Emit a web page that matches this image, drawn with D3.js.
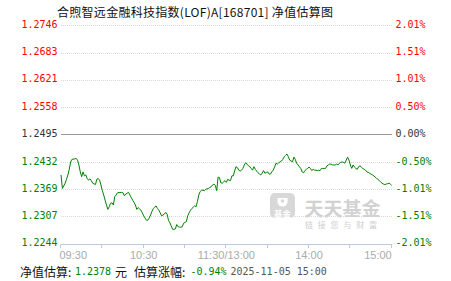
<!DOCTYPE html>
<html><head><meta charset="utf-8">
<script src="https://cdn.jsdelivr.net/npm/d3@7/dist/d3.min.js"></script>
<style>html,body{margin:0;padding:0;background:#fff;} svg{display:block;}</style>
</head><body>
<svg id="c" width="451" height="281"></svg>
<script>
const title = "合煦智远金融科技指数(LOF)A[168701] 净值估算图";
const baseNav = 1.2495;
const leftTickLabels = ["1.2746","1.2683","1.2621","1.2558","1.2495","1.2432","1.2369","1.2307","1.2244"];
const rightTickLabels = ["2.01%","1.51%","1.01%","0.50%","0.00%","-0.50%","-1.01%","-1.51%","-2.01%"];
const xTickMinutes = [0,30,60,90,120,150,180,210,240];
const xLabelMinutes = [0,60,120,180,240];
const xLabels = ["09:30","10:30","11:30/13:00","14:00","15:00"];
const minutes = [0,1,3,4,5,6,7,8,10,11,12,13,14,15,16,17,18,19,20,21,22,23,25,26,27,28,29,30,31,32,33,34,35,36,37,38,39,40,41,44,45,46,47,49,50,51,52,53,54,55,56,57,58,59,60,61,62,63,64,65,66,67,68,69,70,71,72,73,74,75,76,77,78,79,80,81,82,83,84,85,86,87,88,89,90,91,92,93,94,95,96,97,98,99,100,101,102,103,104,105,106,107,108,109,110,111,112,113,114,115,116,117,118,119,120,121,122,123,124,125,126,127,128,129,130,131,132,133,134,135,136,137,138,139,140,141,142,143,144,145,146,147,148,149,150,151,152,153,154,155,156,157,158,159,160,161,162,163,164,165,166,167,168,169,170,171,172,173,174,175,176,177,178,179,180,181,182,183,184,185,186,187,188,189,190,191,192,193,194,195,196,197,198,199,200,201,202,203,204,205,206,207,208,209,210,211,212,213,214,215,216,217,218,219,220,221,222,223,224,225,226,227,228,229,230,231,232,233,234,235,236,237,238,239,240];
const navValues = [1.2402,1.2371,1.2383,1.2392,1.2402,1.2415,1.2432,1.2438,1.2439,1.2440,1.2436,1.2425,1.2409,1.2398,1.2409,1.2400,1.2402,1.2394,1.2390,1.2393,1.2389,1.2383,1.2380,1.2392,1.2394,1.2390,1.2379,1.2366,1.2356,1.2344,1.2333,1.2323,1.2329,1.2337,1.2338,1.2333,1.2352,1.2356,1.2361,1.2362,1.2361,1.2354,1.2358,1.2362,1.2356,1.2350,1.2344,1.2339,1.2333,1.2323,1.2327,1.2324,1.2321,1.2315,1.2308,1.2303,1.2298,1.2298,1.2303,1.2310,1.2318,1.2325,1.2328,1.2331,1.2325,1.2321,1.2315,1.2308,1.2310,1.2312,1.2316,1.2312,1.2298,1.2292,1.2285,1.2277,1.2277,1.2278,1.2288,1.2283,1.2282,1.2282,1.2283,1.2291,1.2293,1.2295,1.2308,1.2315,1.2321,1.2325,1.2328,1.2331,1.2329,1.2341,1.2356,1.2364,1.2367,1.2367,1.2366,1.2369,1.2370,1.2371,1.2373,1.2375,1.2379,1.2381,1.2378,1.2366,1.2397,1.2396,1.2384,1.2383,1.2386,1.2389,1.2385,1.2392,1.2390,1.2389,1.2400,1.2400,1.2411,1.2421,1.2419,1.2413,1.2411,1.2413,1.2417,1.2425,1.2430,1.2427,1.2423,1.2421,1.2417,1.2413,1.2421,1.2415,1.2411,1.2407,1.2404,1.2402,1.2406,1.2412,1.2406,1.2408,1.2409,1.2404,1.2404,1.2409,1.2413,1.2420,1.2429,1.2427,1.2430,1.2432,1.2434,1.2438,1.2444,1.2447,1.2450,1.2444,1.2436,1.2434,1.2432,1.2443,1.2438,1.2429,1.2425,1.2421,1.2417,1.2409,1.2407,1.2412,1.2415,1.2417,1.2420,1.2417,1.2412,1.2415,1.2413,1.2413,1.2412,1.2413,1.2412,1.2417,1.2417,1.2417,1.2417,1.2423,1.2425,1.2427,1.2427,1.2425,1.2425,1.2425,1.2427,1.2425,1.2429,1.2431,1.2432,1.2431,1.2429,1.2436,1.2443,1.2436,1.2425,1.2417,1.2425,1.2420,1.2417,1.2415,1.2421,1.2423,1.2420,1.2417,1.2415,1.2413,1.2409,1.2408,1.2406,1.2404,1.2402,1.2400,1.2397,1.2394,1.2392,1.2389,1.2386,1.2383,1.2381,1.2380,1.2381,1.2382,1.2383,1.2381,1.2378];
const footerLabel1 = "净值估算:";
const footerNav = "1.2378";
const footerUnit = "元";
const footerLabel2 = "估算涨幅:";
const footerPct = "-0.94%";
const footerStamp = "2025-11-05 15:00";

const RED = "#ff0000", GREEN = "#008000", DARK = "#333333";
const MONO = "'DejaVu Sans Mono', monospace";
const CJK = "'Noto Sans CJK SC', sans-serif";

const svg = d3.select("#c");
const x = d3.scaleLinear().domain([0, 240]).range([61, 391.7]);
const y = d3.scaleLinear().domain([+leftTickLabels[8], +leftTickLabels[0]]).range([243.7, 25.3]);
const crisp = v => Math.round(v) + 0.5;

// title
svg.append("text").attr("x", 57).attr("y", 11).attr("dominant-baseline", "central")
  .attr("font-family", CJK).attr("font-size", 12).attr("fill", "#111")
  .attr("textLength", 276).attr("lengthAdjust", "spacing").text(title);

// grid lines
leftTickLabels.forEach((lab, i) => {
  if (i === leftTickLabels.length - 1) return;
  const yy = crisp(y(+lab));
  const zero = Math.abs(+lab - baseNav) < 1e-9;
  svg.append("line").attr("x1", 61).attr("x2", 392).attr("y1", yy).attr("y2", yy)
    .attr("stroke", zero ? "#999" : "#d9d9d9")
    .attr("stroke-dasharray", zero ? null : "1,1");
});

// left/right labels
leftTickLabels.forEach((lab, i) => {
  const v = +lab;
  const col = v > baseNav + 1e-9 ? RED : (v < baseNav - 1e-9 ? GREEN : DARK);
  const yy = y(v) - 0.8;
  svg.append("text").attr("x", 57.5).attr("y", yy).attr("text-anchor", "end")
    .attr("dominant-baseline", "central").attr("font-family", MONO).attr("font-size", 10)
    .attr("fill", col).text(lab);
  svg.append("text").attr("x", 395.5).attr("y", yy).attr("text-anchor", "start")
    .attr("dominant-baseline", "central").attr("font-family", MONO).attr("font-size", 10)
    .attr("fill", col).text(rightTickLabels[i]);
});

// watermark
const wm = svg.append("g");
wm.append("rect").attr("x", 270).attr("y", 193).attr("width", 25).attr("height", 25).attr("rx", 5).attr("fill", "#d8d8d8");
wm.append("path").attr("d", "M277.5,198 h10 v4 a5,4.5 0 0 1 -10,0 z").attr("fill", "#fff");
wm.append("circle").attr("cx", 282.5).attr("cy", 201).attr("r", 1.8).attr("fill", "#d8d8d8");
wm.append("text").attr("x", 282.5).attr("y", 212.5).attr("text-anchor", "middle").attr("dominant-baseline", "central")
  .attr("font-family", CJK).attr("font-weight", 700).attr("font-size", 8.5).attr("fill", "#fff").text("基金");
wm.append("text").attr("x", 304.5).attr("y", 207).attr("dominant-baseline", "central")
  .attr("font-family", CJK).attr("font-weight", 700).attr("font-size", 19).attr("fill", "#d2d2d2")
  .attr("textLength", 76).attr("lengthAdjust", "spacing").text("天天基金");
wm.append("text").attr("x", 305).attr("y", 224.5).attr("dominant-baseline", "central")
  .attr("font-family", CJK).attr("font-size", 8).attr("fill", "#cfcfcf")
  .attr("textLength", 72).attr("lengthAdjust", "spacing").text("链接您与财富");

// x axis
const ay = crisp(y(+leftTickLabels[8]));
svg.append("line").attr("x1", 61).attr("x2", 392).attr("y1", ay).attr("y2", ay).attr("stroke", "#bccbdc");
xTickMinutes.forEach(m => {
  const xx = crisp(x(m)) - 1;
  svg.append("line").attr("x1", xx).attr("x2", xx).attr("y1", ay).attr("y2", ay + 3.5).attr("stroke", "#bccbdc");
});
xLabelMinutes.forEach((m, i) => {
  const anchor = i === 0 ? "start" : (i === xLabelMinutes.length - 1 ? "end" : "middle");
  svg.append("text").attr("x", x(m) + (i === 0 ? -1.5 : 0)).attr("y", 255).attr("text-anchor", anchor)
    .attr("dominant-baseline", "central").attr("font-family", "'Liberation Sans', Arial, sans-serif")
    .attr("font-size", 11).attr("fill", "#aaaaaa").text(xLabels[i]);
});

// line
const pts = minutes.map((m, i) => [m, navValues[i]]);
svg.append("path").datum(pts)
  .attr("d", d3.line().x(d => x(d[0])).y(d => y(d[1])))
  .attr("fill", "none").attr("stroke", GREEN).attr("stroke-width", 1);

// footer
const fy = 271;
const ft = (tx, s, fam, size, col) => svg.append("text").attr("x", tx).attr("y", fy)
  .attr("dominant-baseline", "central").attr("font-family", fam).attr("font-size", size).attr("fill", col).text(s);
ft(20, footerLabel1, CJK, 12, "#111");
ft(75, footerNav, MONO, 10, GREEN);
ft(115, footerUnit, CJK, 12, "#111");
ft(134, footerLabel2, CJK, 12, "#111");
ft(190.5, footerPct, MONO, 10, GREEN);
ft(230.5, footerStamp, MONO, 10, "#555");
</script>
</body></html>
